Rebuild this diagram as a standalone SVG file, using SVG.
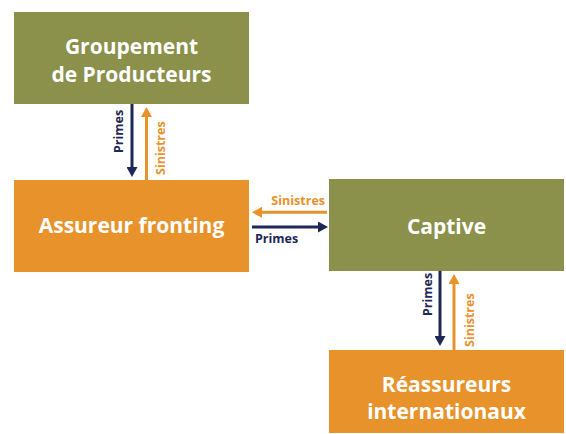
<svg xmlns="http://www.w3.org/2000/svg" width="566" height="434" viewBox="0 0 566 434">
<style>
.olive{fill:#8b904b}
.orange{fill:#e8922b}
.nt{font-family:"Open Sans","Liberation Sans",sans-serif;font-weight:700;font-size:21px;fill:#ffffff;text-anchor:middle}
.lbl{font-family:"Open Sans","Liberation Sans",sans-serif;font-weight:700;font-size:12.5px}
.navy{stroke:#1d2856;stroke-width:3;fill:none}
.or{stroke:#e8922b;stroke-width:3;fill:none}
.tn{fill:#1d2856}
.to{fill:#e8922b}
</style>
<defs>
<marker id="hn" viewBox="0 -5.5 10 11" refX="0" refY="0" markerWidth="10" markerHeight="11" markerUnits="userSpaceOnUse" orient="auto"><path d="M0,-5.5 L10,0 L0,5.5 z" fill="#1d2856"/></marker>
<marker id="ho" viewBox="0 -5.5 10 11" refX="0" refY="0" markerWidth="10" markerHeight="11" markerUnits="userSpaceOnUse" orient="auto"><path d="M0,-5.5 L10,0 L0,5.5 z" fill="#e8922b"/></marker>
</defs>
<g id="groupement">
<rect class="olive" x="14" y="12" width="235" height="92"/>
<text class="nt" x="131.5" y="54">Groupement</text>
<text class="nt" x="131.5" y="82">de Producteurs</text>
</g>
<g id="assureur">
<rect class="orange" x="14" y="180" width="235" height="92"/>
<text class="nt" x="131.5" y="233">Assureur fronting</text>
</g>
<g id="captive">
<rect class="olive" x="329" y="179" width="235" height="92"/>
<text class="nt" x="446.5" y="234">Captive</text>
</g>
<g id="reassureurs">
<rect class="orange" x="329" y="350" width="235" height="83"/>
<text class="nt" x="446.5" y="392">Réassureurs</text>
<text class="nt" x="446.5" y="419">internationaux</text>
</g>
<g id="connectors">
<line class="navy" x1="132" y1="104" x2="132" y2="167" marker-end="url(#hn)"/>
<line class="or" x1="146.5" y1="180" x2="146.5" y2="117" marker-end="url(#ho)"/>
<text class="lbl tn" transform="translate(123,153) rotate(-90)">Primes</text>
<text class="lbl to" transform="translate(165,175) rotate(-90)">Sinistres</text>
<line class="or" x1="327" y1="212.3" x2="262" y2="212.3" marker-end="url(#ho)"/>
<line class="navy" x1="252" y1="227" x2="318" y2="227" marker-end="url(#hn)"/>
<text class="lbl to" x="325" y="205" text-anchor="end">Sinistres</text>
<text class="lbl tn" x="255" y="243">Primes</text>
<line class="navy" x1="440" y1="271" x2="440" y2="336" marker-end="url(#hn)"/>
<line class="or" x1="454" y1="350" x2="454" y2="284" marker-end="url(#ho)"/>
<text class="lbl tn" transform="translate(432,316) rotate(-90)">Primes</text>
<text class="lbl to" transform="translate(473.5,347) rotate(-90)">Sinistres</text>
</g>
</svg>
